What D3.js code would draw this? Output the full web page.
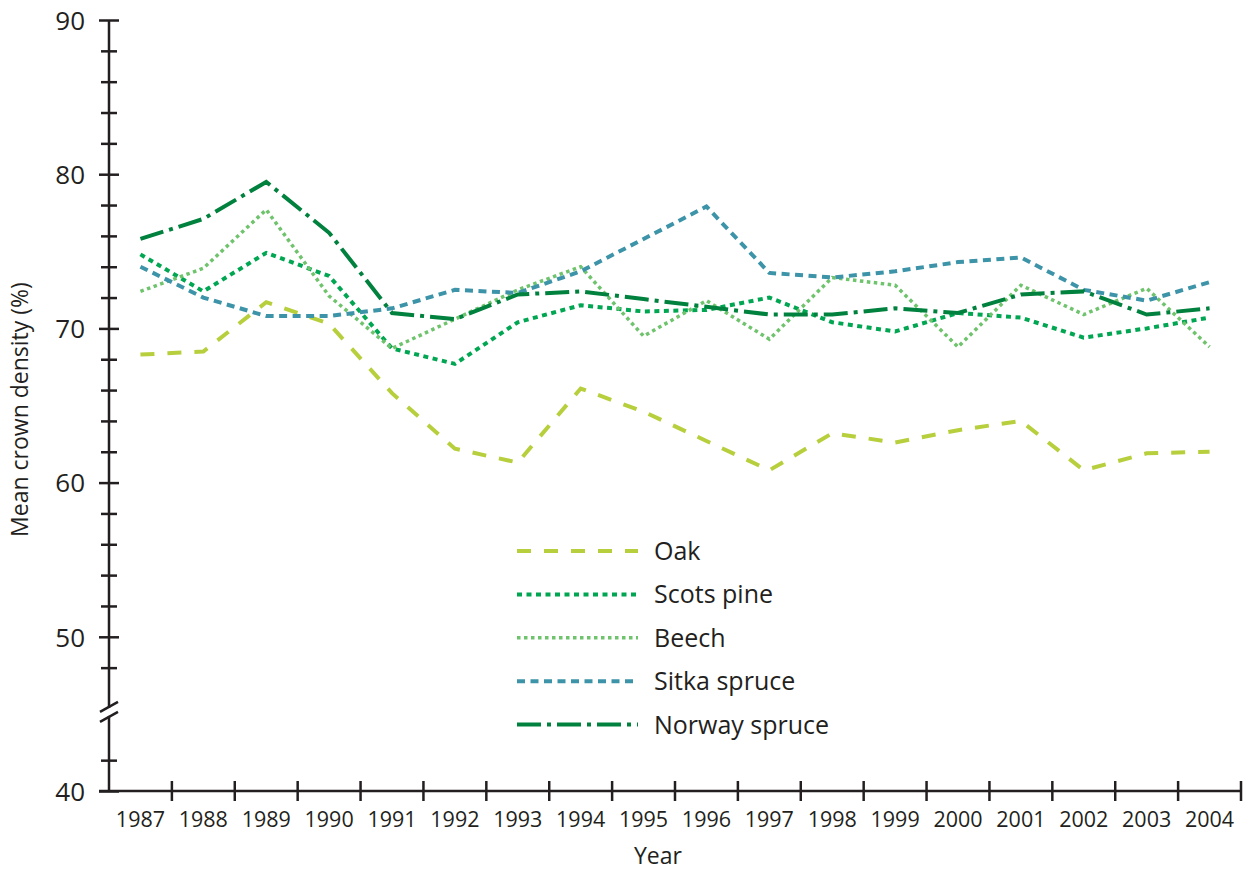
<!DOCTYPE html>
<html>
<head>
<meta charset="UTF-8">
<script src="https://cdn.jsdelivr.net/npm/d3@7"></script>
<style>
body{
	margin: 0;
	background: #fff;
	font-family: "Open Sans", sans-serif;
}
.axis text{
	font-size: 21.5px;
	fill: #231f20;
	font-family: "Open Sans", sans-serif;
}
.y-labels text{
	font-size: 26px;
}
.axis line, .axis-line{
	stroke: #231f20;
	stroke-width: 2.5;
}
.axis path{
	display: none;
}
.axis-label{
	font-size: 23px;
	fill: #231f20;
	text-anchor: middle;
}
.legend text{
	font-size: 25px;
	fill: #231f20;
}
.series{
	fill: none;
}
</style>
</head>
<body>
<script>
// values
var years = ["1987","1988","1989","1990","1991","1992","1993","1994","1995","1996","1997","1998","1999","2000","2001","2002","2003","2004"];

var oak        = [68.3, 68.5, 71.7, 70.3, 65.8, 62.2, 61.3, 66.1, 64.6, 62.7, 60.8, 63.2, 62.6, 63.4, 64.0, 60.8, 61.9, 62.0];
var scotsPine  = [74.8, 72.4, 74.9, 73.4, 68.7, 67.7, 70.4, 71.5, 71.1, 71.2, 72.0, 70.4, 69.8, 71.0, 70.7, 69.4, 70.0, 70.7];
var beech      = [72.4, 73.9, 77.7, 72.1, 68.7, 70.6, 72.5, 74.0, 69.5, 71.8, 69.3, 73.3, 72.8, 68.8, 72.8, 70.9, 72.6, 68.8];
var sitkaSpruce  = [74.0, 72.0, 70.8, 70.8, 71.3, 72.5, 72.3, 73.7, 75.8, 77.9, 73.6, 73.3, 73.7, 74.3, 74.6, 72.5, 71.8, 73.0];
var norwaySpruce = [75.8, 77.1, 79.5, 76.2, 71.0, 70.6, 72.2, 72.4, 71.9, 71.4, 70.9, 70.9, 71.3, 71.0, 72.2, 72.4, 70.9, 71.3];

var seriesNames = ["Oak", "Scots pine", "Beech", "Sitka spruce", "Norway spruce"];
var yMajorTicks = [40, 50, 60, 70, 80, 90];
var yMinorTicks = [42, 48, 52, 54, 56, 58, 62, 64, 66, 68, 72, 74, 76, 78, 82, 84, 86, 88];

var styles = [
	{color: "#b8cf3d", width: 4, dash: "14,13"},
	{color: "#00a651", width: 4, dash: "5,4.5"},
	{color: "#6ec36c", width: 3.5, dash: "3.5,3.5"},
	{color: "#3d94a9", width: 4, dash: "8,5.5"},
	{color: "#00813e", width: 4, dash: "24,6,4,6"}
];

var allValues = [oak, scotsPine, beech, sitkaSpruce, norwaySpruce];

var W = 1246, H = 872;
var plotLeft = 109, plotRight = 1241, plotTop = 20, plotBottom = 791;

var svg = d3.select("body").append("svg")
	.attr("width", W)
	.attr("height", H);

var x = d3.scaleBand()
	.domain(years)
	.range([plotLeft, plotRight]);

var y = d3.scaleLinear()
	.domain([40, 90])
	.range([plotBottom, plotTop]);

// lines
var line = d3.line()
	.x(function(d, i){ return x(years[i]) + x.bandwidth() / 2; })
	.y(function(d){ return y(d); });

svg.selectAll(".series")
	.data(allValues)
	.enter().append("path")
	.attr("class", "series")
	.attr("d", line)
	.attr("stroke", function(d, i){ return styles[i].color; })
	.attr("stroke-width", function(d, i){ return styles[i].width; })
	.attr("stroke-dasharray", function(d, i){ return styles[i].dash; });

// y axis, ticks cross the line on both sides
var yMajor = svg.append("g")
	.attr("class", "axis y-labels")
	.attr("transform", "translate(" + plotLeft + ",0)")
	.call(d3.axisLeft(y).tickValues(yMajorTicks).tickSize(10).tickPadding(14));
yMajor.selectAll("line").attr("x1", -10).attr("x2", 10);
yMajor.selectAll("text").attr("dy", "0.36em");

var yMinor = svg.append("g")
	.attr("class", "axis")
	.attr("transform", "translate(" + plotLeft + ",0)")
	.call(d3.axisLeft(y).tickValues(yMinorTicks).tickSize(8).tickFormat(""));
yMinor.selectAll("line").attr("x1", -8).attr("x2", 8);

// axis line with the break near 45
var yb = y(45) - 2;
svg.append("line").attr("class", "axis-line")
	.attr("x1", plotLeft).attr("x2", plotLeft)
	.attr("y1", y(90)).attr("y2", yb - 4);
svg.append("line").attr("class", "axis-line")
	.attr("x1", plotLeft).attr("x2", plotLeft)
	.attr("y1", yb + 4).attr("y2", y(40));
[-5, 5].forEach(function(off){
	svg.append("line").attr("class", "axis-line")
		.attr("x1", plotLeft - 9).attr("y1", yb + off + 5)
		.attr("x2", plotLeft + 9).attr("y2", yb + off - 5);
});

// x axis
svg.append("g")
	.attr("class", "axis")
	.attr("transform", "translate(0," + plotBottom + ")")
	.call(d3.axisBottom(x).tickSize(0).tickPadding(21));

svg.append("line").attr("class", "axis-line")
	.attr("x1", plotLeft - 10).attr("x2", plotRight)
	.attr("y1", plotBottom).attr("y2", plotBottom);

svg.append("g")
	.selectAll("line")
	.data(years)
	.enter().append("line")
	.attr("class", "axis-line")
	.attr("x1", function(d){ return x(d) + x.bandwidth(); })
	.attr("x2", function(d){ return x(d) + x.bandwidth(); })
	.attr("y1", plotBottom - 10)
	.attr("y2", plotBottom + 10);

// axis titles
svg.append("text")
	.attr("class", "axis-label")
	.attr("x", 658)
	.attr("y", 864)
	.text("Year");

svg.append("text")
	.attr("class", "axis-label")
	.attr("transform", "translate(28," + ((plotTop + plotBottom) / 2 + 4) + ") rotate(-90)")
	.text("Mean crown density (%)");

// legend
var legend = svg.append("g")
	.attr("class", "legend")
	.attr("transform", "translate(517,551)");

var rows = legend.selectAll("g")
	.data(seriesNames)
	.enter().append("g")
	.attr("transform", function(d, i){ return "translate(0," + (i * 43.4) + ")"; });

rows.append("line")
	.attr("x1", 0).attr("x2", 121)
	.attr("y1", 0).attr("y2", 0)
	.attr("stroke", function(d, i){ return styles[i].color; })
	.attr("stroke-width", function(d, i){ return styles[i].width; })
	.attr("stroke-dasharray", function(d, i){ return styles[i].dash; });

rows.append("text")
	.attr("x", 137)
	.attr("y", 9)
	.text(function(d){ return d; });
</script>
</body>
</html>
